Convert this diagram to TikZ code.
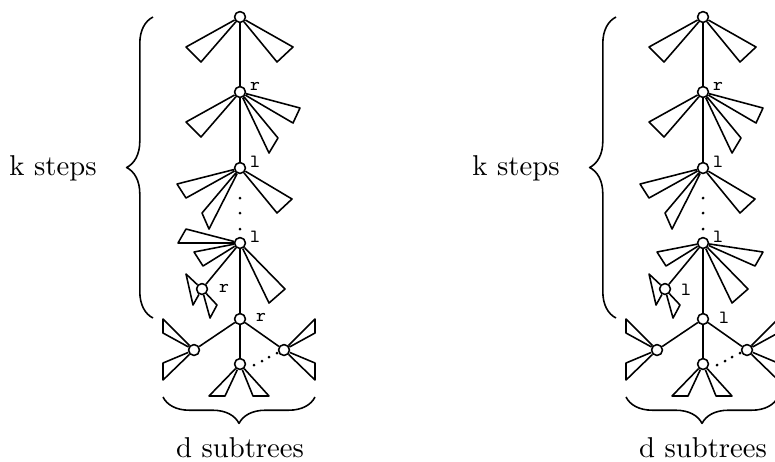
\documentclass[tikz,border=0pt]{standalone}
\usetikzlibrary{decorations.pathreplacing}
\newcommand\tri[3]{\draw (#1) -- #2 -- #3 -- (#1);}
\newcommand\treecore[1]{%
  \node[nd] (#1A) at (240,17) {};
  \node[nd] (#1B) at (240,92) {};
  \node[nd] (#1C) at (240,168) {};
  \node[nd] (#1D) at (240,243) {};
  \node[nd] (#1E) at (202,289) {};
  \node[nd] (#1F) at (240,319) {};
  \node[nd] (#1G) at (194,350) {};
  \node[nd] (#1H) at (240,364) {};
  \node[nd] (#1I) at (284,350) {};
  \draw (#1A) -- (#1B);
  \draw (#1B) -- (#1C);
  \draw (#1D) -- (#1F);
  \draw (#1D) -- (#1E);
  \draw (#1F) -- (#1G);
  \draw (#1F) -- (#1H);
  \draw (#1F) -- (#1I);
  \tri{#1A}{(186,47)}{(201,62)}
  \tri{#1A}{(293,47)}{(277,62)}
  \tri{#1B}{(186,122)}{(201,137)}
  \tri{#1B}{(300,108)}{(293,123)}
  \tri{#1B}{(278,138)}{(269,153)}
  \tri{#1C}{(177,184)}{(186,198)}
  \tri{#1C}{(202,213)}{(209,229)}
  \tri{#1C}{(292,199)}{(277,213)}
  \tri{#1D}{(194,252)}{(203,266)}
  \tri{#1D}{(285,289)}{(269,303)}
  \tri{#1E}{(186,274)}{(193,305)}
  \tri{#1E}{(217,305)}{(210,318)}
  \tri{#1G}{(163,319)}{(163,333)}
  \tri{#1G}{(163,363)}{(163,380)}
  \tri{#1H}{(209,396)}{(225,396)}
  \tri{#1H}{(253,396)}{(269,396)}
  \tri{#1I}{(315,319)}{(315,333)}
  \tri{#1I}{(315,363)}{(315,380)}
  \node[dotc] (#1v1) at (240,198) {};
  \node[dotc] (#1v2) at (240,213) {};
  \node[dotc] (#1v3) at (240,229) {};
  \node[dotc] (#1h1) at (254,365) {};
  \node[dotc] (#1h2) at (262,361) {};
  \node[dotc] (#1h3) at (269,357) {};
  \node[dotc] (#1h4) at (277,353) {};
  \node[lab] (#1lB) at (255,86) {r};
  \node[lab] (#1lC) at (255,162) {l};
  \node[lab] (#1lD) at (255,237) {l};
  \draw[brc] (153,318) -- (153,17);
  \draw[brc] (315,397) -- (163,397);
  \node[txt] (#1k) at (53,175) {k steps};
  \node[txt] (#1d) at (240,457) {d subtrees};
}
\begin{document}
\begin{tikzpicture}[x=0.3485pt,y=-0.3485pt,line width=0.55pt,line join=round,
  nd/.style={circle,draw,fill=white,inner sep=0pt,minimum size=3.8pt},
  lab/.style={font=\ttfamily\fontsize{6.5}{7}\selectfont,inner sep=0pt},
  dotc/.style={fill=black,circle,inner sep=0pt,minimum size=1.05pt},
  brc/.style={decorate,decoration={brace,amplitude=9.2pt}},
  txt/.style={font=\fontsize{10}{12}\selectfont,anchor=base,inner sep=0pt}]
\useasboundingbox (0,0) rectangle (775,461);
\clip (0,0) rectangle (775,461);
% left tree
\treecore{L}
\tri{LD}{(186,229)}{(178,243)}
\node[lab] (LlE) at (224,288) {r};
\node[lab] (LlF) at (261,317) {r};
% right tree
\begin{scope}[shift={(463,0)}]
\treecore{R}
\tri{RD}{(300,252)}{(292,266)}
\node[lab] (RlE) at (223,290) {l};
\node[lab] (RlF) at (261,318) {l};
\end{scope}
\end{tikzpicture}
\end{document}
